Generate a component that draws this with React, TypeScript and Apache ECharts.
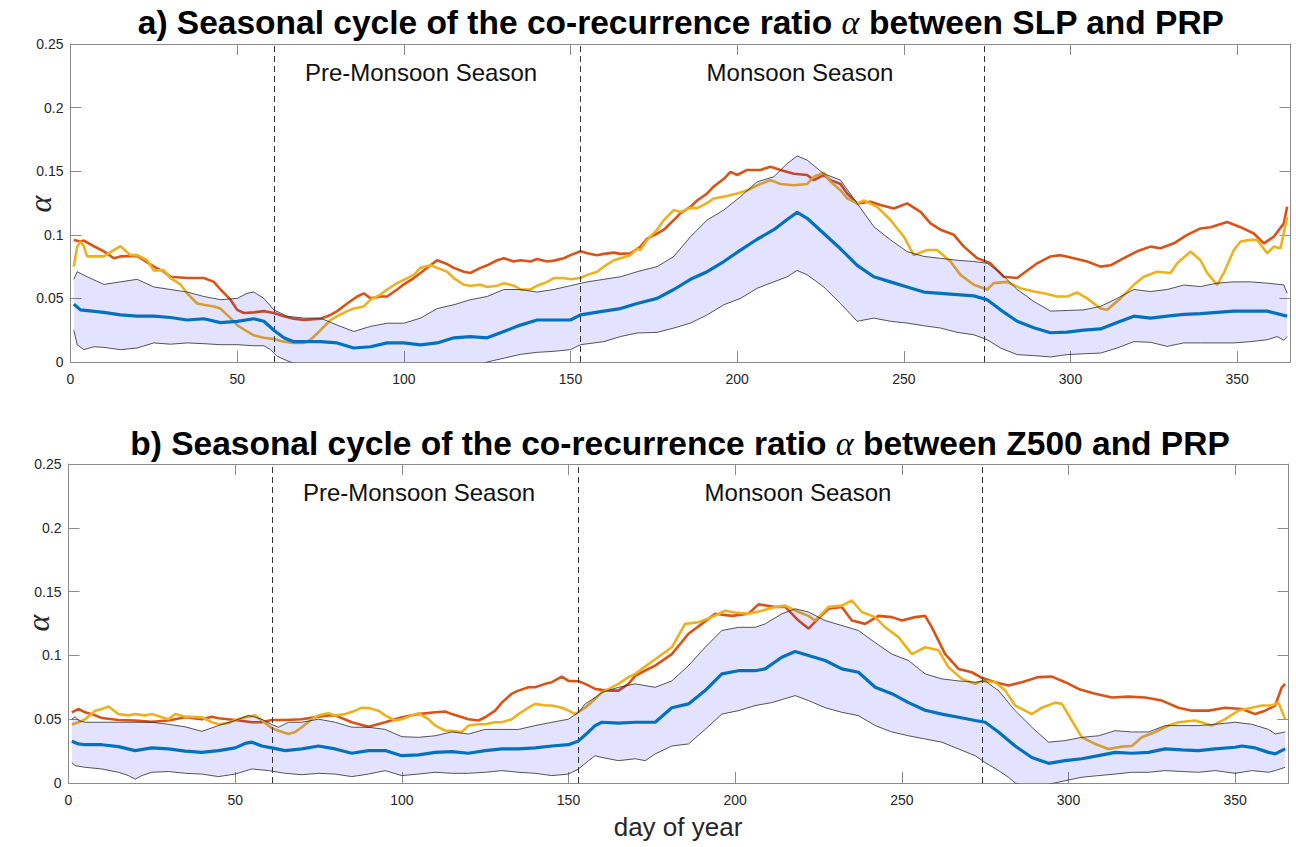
import React, { useEffect, useRef } from "react";
import * as echarts from "echarts";

type P = [number, number];

// ---------- Panel a) SLP / PRP ----------
const aMean: P[] = [[1,0.0455],[3,0.041],[10,0.039],[15,0.037],[20,0.036],[25,0.036],[30,0.035],[35,0.033],[40,0.034],[45,0.031],[50,0.032],[55,0.034],[58,0.032],[61,0.025],[64,0.019],[67,0.016],[70,0.016],[75,0.016],[80,0.015],[85,0.011],[90,0.012],[95,0.015],[100,0.015],[105,0.0135],[110,0.015],[115,0.019],[120,0.020],[125,0.019],[130,0.024],[135,0.029],[140,0.033],[145,0.033],[150,0.033],[153,0.037],[160,0.040],[165,0.042],[170,0.046],[176,0.050],[181,0.057],[186,0.065],[191,0.071],[196,0.079],[201,0.088],[206,0.0965],[211,0.104],[215,0.112],[218,0.1176],[221,0.113],[226,0.101],[231,0.089],[236,0.076],[241,0.067],[246,0.063],[251,0.059],[256,0.055],[261,0.054],[266,0.053],[271,0.052],[275,0.049],[279,0.041],[284,0.032],[289,0.027],[294,0.023],[299,0.0235],[304,0.025],[309,0.026],[314,0.031],[319,0.036],[324,0.0345],[329,0.036],[334,0.0375],[339,0.038],[344,0.039],[349,0.040],[354,0.040],[359,0.040],[362,0.038],[365,0.036]];
const aUpper: P[] = [[1,0.065],[2,0.071],[5,0.067],[10,0.061],[15,0.063],[20,0.065],[25,0.059],[30,0.057],[35,0.055],[40,0.0515],[45,0.049],[50,0.050],[53,0.054],[55,0.055],[58,0.050],[61,0.041],[65,0.036],[70,0.0345],[75,0.0345],[80,0.029],[85,0.024],[90,0.028],[95,0.0305],[100,0.0305],[105,0.0345],[110,0.042],[115,0.045],[120,0.049],[125,0.0515],[130,0.057],[135,0.057],[140,0.055],[145,0.057],[150,0.060],[155,0.063],[160,0.065],[165,0.067],[170,0.071],[176,0.075],[181,0.083],[186,0.0985],[191,0.1116],[196,0.1195],[201,0.130],[206,0.1417],[211,0.1456],[215,0.156],[218,0.162],[221,0.1587],[226,0.148],[231,0.143],[236,0.1247],[241,0.1064],[246,0.096],[251,0.0868],[256,0.083],[261,0.0815],[266,0.080],[271,0.079],[275,0.0776],[279,0.070],[284,0.057],[289,0.0476],[294,0.040],[299,0.0405],[304,0.041],[309,0.0437],[314,0.050],[319,0.057],[324,0.0554],[329,0.057],[334,0.0605],[339,0.0593],[344,0.062],[349,0.063],[354,0.063],[359,0.062],[364,0.0606],[365,0.054]];
const aLower: P[] = [[1,0.025],[2,0.0136],[4,0.0097],[7,0.012],[10,0.0115],[15,0.0097],[20,0.011],[25,0.015],[30,0.014],[35,0.015],[40,0.0144],[45,0.0136],[50,0.0136],[55,0.0128],[58,0.0128],[60,0.0097],[62,0.0045],[65,0.001],[68,-0.002],[75,-0.008],[90,-0.015],[100,-0.015],[110,-0.012],[120,-0.005],[125,0.0],[130,0.003],[135,0.006],[140,0.0076],[145,0.0084],[150,0.0097],[153,0.0136],[160,0.016],[165,0.020],[170,0.0228],[176,0.0233],[181,0.0267],[186,0.0306],[191,0.037],[196,0.045],[201,0.050],[206,0.058],[211,0.063],[215,0.067],[218,0.072],[221,0.0685],[226,0.059],[231,0.046],[236,0.032],[241,0.0345],[246,0.032],[251,0.0306],[256,0.0285],[261,0.0267],[266,0.0233],[271,0.0214],[275,0.0175],[279,0.011],[284,0.0058],[289,0.005],[294,0.004],[299,0.0058],[304,0.0065],[309,0.007],[314,0.011],[319,0.016],[324,0.0155],[329,0.0123],[334,0.015],[339,0.015],[344,0.015],[349,0.015],[354,0.016],[359,0.0175],[362,0.020],[364,0.017],[365,0.020]];
const aOrange: P[] = [[1,0.096],[3,0.0947],[4,0.0955],[7,0.091],[10,0.087],[13,0.0816],[15,0.083],[20,0.0834],[25,0.075],[28,0.071],[30,0.067],[35,0.066],[40,0.066],[43,0.063],[45,0.057],[48,0.049],[50,0.041],[52,0.0385],[55,0.039],[58,0.040],[61,0.0385],[64,0.036],[67,0.034],[70,0.033],[75,0.034],[78,0.037],[80,0.040],[83,0.046],[86,0.0515],[88,0.054],[90,0.050],[93,0.0515],[95,0.0515],[98,0.057],[100,0.061],[103,0.066],[105,0.070],[108,0.076],[110,0.080],[113,0.077],[115,0.074],[118,0.071],[120,0.070],[123,0.074],[125,0.076],[128,0.080],[130,0.0816],[133,0.079],[135,0.080],[138,0.079],[140,0.081],[143,0.079],[145,0.0797],[148,0.0816],[150,0.084],[153,0.087],[155,0.0855],[158,0.084],[160,0.085],[163,0.086],[165,0.085],[168,0.0855],[171,0.0907],[173,0.097],[176,0.101],[178,0.104],[181,0.1116],[183,0.117],[186,0.122],[188,0.127],[191,0.1325],[193,0.138],[196,0.144],[198,0.1495],[200,0.147],[203,0.151],[207,0.151],[210,0.1535],[213,0.151],[217,0.148],[221,0.147],[223,0.143],[226,0.147],[228,0.143],[231,0.140],[233,0.1325],[236,0.1247],[240,0.126],[243,0.1234],[247,0.1207],[251,0.1247],[255,0.118],[258,0.109],[261,0.104],[265,0.100],[268,0.0907],[272,0.0816],[276,0.0776],[280,0.067],[284,0.066],[286,0.070],[290,0.0776],[294,0.083],[297,0.084],[301,0.0816],[305,0.079],[309,0.075],[312,0.076],[316,0.0816],[320,0.087],[324,0.0907],[327,0.0894],[331,0.0933],[335,0.100],[339,0.105],[342,0.106],[347,0.110],[351,0.106],[355,0.101],[358,0.0933],[361,0.0985],[364,0.109],[365,0.122]];
const aYellow: P[] = [[1,0.075],[2,0.0907],[3,0.0947],[4,0.091],[5,0.083],[8,0.083],[10,0.083],[13,0.088],[15,0.091],[18,0.084],[20,0.084],[23,0.080],[25,0.072],[28,0.072],[30,0.066],[33,0.061],[35,0.054],[38,0.046],[40,0.045],[43,0.0437],[45,0.042],[48,0.0345],[50,0.029],[53,0.024],[55,0.021],[58,0.019],[61,0.018],[64,0.016],[67,0.015],[70,0.015],[72,0.0175],[75,0.025],[78,0.033],[80,0.036],[83,0.040],[85,0.042],[88,0.0437],[90,0.049],[93,0.053],[95,0.057],[98,0.062],[100,0.0646],[103,0.0685],[105,0.074],[108,0.076],[110,0.074],[113,0.071],[115,0.066],[118,0.0607],[120,0.060],[123,0.0607],[125,0.059],[128,0.060],[130,0.062],[133,0.060],[135,0.057],[138,0.057],[140,0.060],[143,0.063],[145,0.066],[148,0.066],[150,0.065],[153,0.066],[155,0.0685],[158,0.071],[160,0.075],[163,0.080],[165,0.0816],[168,0.084],[170,0.0894],[171,0.088],[173,0.096],[176,0.104],[178,0.1116],[181,0.1195],[183,0.118],[186,0.121],[188,0.121],[191,0.125],[193,0.1286],[196,0.130],[200,0.1325],[203,0.135],[207,0.140],[210,0.143],[213,0.140],[217,0.139],[221,0.140],[223,0.1456],[226,0.1488],[228,0.1417],[231,0.135],[233,0.1286],[236,0.1247],[238,0.127],[242,0.122],[246,0.1116],[250,0.0985],[253,0.084],[257,0.088],[260,0.088],[264,0.079],[267,0.0685],[271,0.0607],[275,0.057],[277,0.062],[281,0.063],[285,0.058],[289,0.0554],[292,0.054],[296,0.0515],[299,0.0515],[302,0.0546],[305,0.050],[309,0.042],[311,0.041],[315,0.050],[319,0.0607],[322,0.067],[326,0.071],[330,0.070],[332,0.0776],[336,0.0868],[339,0.080],[341,0.070],[344,0.0607],[346,0.070],[349,0.088],[351,0.0947],[354,0.096],[356,0.096],[359,0.0855],[361,0.0907],[363,0.0894],[365,0.114]];

// ---------- Panel b) Z500 / PRP ----------
const bMean: P[] = [[1,0.0327],[3,0.0306],[5,0.030],[10,0.030],[15,0.0285],[20,0.0254],[25,0.0275],[30,0.0267],[35,0.025],[40,0.024],[45,0.0254],[50,0.0275],[53,0.031],[55,0.032],[58,0.029],[61,0.0275],[65,0.0254],[70,0.0267],[75,0.029],[80,0.0267],[85,0.0233],[90,0.0254],[95,0.0254],[100,0.0214],[105,0.022],[110,0.024],[115,0.0246],[120,0.0233],[125,0.0254],[130,0.0267],[135,0.0267],[140,0.0275],[145,0.029],[150,0.030],[153,0.033],[156,0.040],[158,0.045],[160,0.0476],[165,0.047],[170,0.0476],[176,0.0476],[181,0.059],[186,0.062],[191,0.0724],[196,0.0855],[201,0.088],[206,0.088],[209,0.0894],[214,0.0986],[218,0.103],[222,0.0999],[227,0.096],[232,0.0894],[237,0.0868],[242,0.075],[247,0.070],[252,0.063],[257,0.057],[262,0.054],[267,0.0515],[272,0.049],[275,0.0476],[279,0.040],[284,0.029],[289,0.020],[294,0.0154],[299,0.0175],[304,0.019],[309,0.0214],[314,0.024],[319,0.0233],[324,0.024],[329,0.0267],[334,0.026],[339,0.0254],[344,0.0267],[350,0.028],[352,0.029],[356,0.0275],[360,0.024],[362,0.0228],[365,0.0267]];
const bUpper: P[] = [[1,0.050],[2,0.052],[3,0.049],[5,0.0476],[10,0.0476],[15,0.0476],[20,0.0476],[25,0.0476],[30,0.046],[35,0.044],[40,0.0405],[45,0.045],[50,0.049],[54,0.053],[58,0.050],[61,0.0458],[63,0.0437],[66,0.0476],[70,0.0476],[75,0.050],[80,0.0476],[85,0.0437],[90,0.0437],[95,0.042],[100,0.0363],[105,0.0358],[110,0.037],[115,0.040],[120,0.0384],[125,0.042],[130,0.042],[135,0.042],[140,0.045],[145,0.0476],[150,0.050],[153,0.0554],[155,0.062],[158,0.067],[160,0.071],[165,0.075],[170,0.0777],[176,0.075],[181,0.080],[186,0.092],[191,0.1064],[196,0.1195],[201,0.122],[206,0.122],[209,0.1247],[214,0.1326],[218,0.1365],[222,0.134],[227,0.1273],[232,0.1234],[237,0.1195],[242,0.110],[247,0.101],[252,0.096],[257,0.0855],[262,0.0816],[267,0.080],[272,0.079],[275,0.080],[279,0.0724],[284,0.0567],[289,0.0437],[294,0.032],[299,0.0332],[304,0.0358],[309,0.037],[314,0.041],[319,0.040],[324,0.040],[329,0.045],[334,0.045],[339,0.045],[344,0.046],[350,0.0476],[355,0.046],[360,0.042],[362,0.0384],[365,0.040]];
const bLower: P[] = [[1,0.016],[2,0.0136],[5,0.0123],[10,0.011],[15,0.0084],[18,0.0058],[20,0.003],[22,0.0058],[25,0.0084],[30,0.009],[35,0.0076],[40,0.007],[45,0.005],[50,0.007],[55,0.011],[60,0.0097],[65,0.0076],[70,0.0065],[75,0.0076],[80,0.007],[85,0.005],[90,0.007],[95,0.0097],[100,0.0058],[105,0.007],[110,0.0084],[115,0.0076],[120,0.0076],[125,0.0084],[130,0.0097],[135,0.0084],[140,0.0076],[145,0.0058],[150,0.007],[153,0.011],[156,0.0175],[158,0.0214],[160,0.020],[165,0.0175],[170,0.019],[173,0.0175],[176,0.0228],[181,0.029],[186,0.0306],[191,0.042],[196,0.054],[201,0.0567],[206,0.0607],[211,0.063],[218,0.0685],[222,0.0646],[227,0.059],[232,0.0554],[237,0.0528],[242,0.045],[247,0.040],[252,0.037],[257,0.0345],[262,0.032],[267,0.0267],[272,0.0214],[275,0.016],[279,0.0097],[282,0.0045],[284,0.0],[289,-0.004],[294,-0.001],[299,0.0018],[304,0.0045],[309,0.0058],[314,0.007],[319,0.0084],[324,0.0084],[329,0.0097],[334,0.009],[339,0.0084],[344,0.0097],[350,0.0076],[355,0.0097],[360,0.0084],[362,0.0097],[365,0.0123]];
const bOrange: P[] = [[1,0.0554],[3,0.058],[5,0.0554],[8,0.053],[10,0.051],[15,0.0494],[20,0.049],[25,0.048],[30,0.049],[35,0.0515],[40,0.050],[43,0.052],[45,0.0507],[50,0.0494],[55,0.0476],[58,0.0476],[61,0.0494],[65,0.0494],[70,0.050],[75,0.052],[78,0.053],[80,0.053],[85,0.0476],[90,0.044],[95,0.0476],[100,0.0515],[105,0.054],[110,0.0554],[113,0.056],[115,0.054],[120,0.050],[123,0.049],[125,0.0515],[128,0.0567],[130,0.063],[133,0.070],[135,0.0724],[138,0.075],[140,0.075],[143,0.0777],[145,0.079],[148,0.0834],[150,0.080],[153,0.0797],[155,0.0777],[158,0.0737],[160,0.073],[163,0.0724],[165,0.0724],[168,0.0777],[170,0.084],[172,0.0868],[176,0.092],[181,0.101],[186,0.117],[190,0.1247],[194,0.1326],[199,0.131],[204,0.1326],[207,0.140],[212,0.138],[215,0.138],[219,0.1273],[222,0.121],[225,0.129],[228,0.1365],[232,0.138],[235,0.1273],[239,0.1247],[243,0.131],[247,0.130],[250,0.1273],[254,0.130],[257,0.131],[259,0.122],[263,0.101],[267,0.0894],[271,0.0868],[274,0.0824],[278,0.079],[282,0.0764],[286,0.079],[291,0.083],[295,0.0834],[299,0.079],[303,0.0737],[308,0.070],[313,0.067],[318,0.0677],[323,0.067],[328,0.0646],[333,0.059],[337,0.0567],[342,0.0567],[347,0.059],[352,0.058],[356,0.054],[359,0.0567],[362,0.0607],[364,0.075],[365,0.0777]];
const bYellow: P[] = [[1,0.0458],[3,0.0476],[5,0.050],[8,0.0567],[10,0.058],[12,0.060],[15,0.054],[18,0.053],[20,0.054],[23,0.053],[25,0.054],[28,0.0515],[30,0.050],[32,0.054],[35,0.052],[40,0.0515],[43,0.0476],[45,0.046],[48,0.047],[50,0.0494],[53,0.0515],[56,0.053],[58,0.049],[61,0.043],[63,0.041],[66,0.0384],[68,0.040],[70,0.0437],[73,0.050],[75,0.053],[78,0.0546],[80,0.053],[83,0.054],[86,0.0567],[88,0.059],[90,0.0588],[93,0.0567],[95,0.053],[98,0.049],[100,0.050],[103,0.053],[105,0.0546],[108,0.050],[110,0.045],[113,0.041],[115,0.041],[118,0.040],[120,0.045],[123,0.046],[125,0.046],[128,0.0476],[130,0.0476],[133,0.050],[135,0.054],[138,0.059],[140,0.062],[143,0.0607],[145,0.0607],[148,0.059],[150,0.0567],[152,0.054],[155,0.059],[158,0.066],[160,0.071],[163,0.075],[165,0.0777],[168,0.083],[170,0.0855],[172,0.0894],[176,0.097],[181,0.1064],[185,0.1247],[189,0.126],[193,0.130],[197,0.135],[200,0.1336],[204,0.1326],[208,0.135],[212,0.138],[215,0.139],[219,0.134],[222,0.131],[224,0.1273],[228,0.138],[232,0.139],[235,0.143],[238,0.134],[242,0.130],[245,0.122],[249,0.1143],[253,0.101],[257,0.1064],[261,0.104],[264,0.0907],[268,0.0816],[272,0.0777],[274,0.080],[278,0.079],[281,0.0724],[284,0.0607],[289,0.054],[292,0.059],[296,0.063],[298,0.062],[301,0.049],[304,0.0358],[308,0.0306],[312,0.0267],[316,0.0285],[319,0.029],[322,0.0358],[326,0.040],[330,0.045],[333,0.0476],[338,0.049],[343,0.045],[347,0.050],[351,0.0567],[355,0.059],[358,0.0607],[361,0.0607],[363,0.063],[365,0.050]];

// season boundaries (day of year)
const seasonBounds = [61, 153, 274];
const seasonNames = ["Pre-Monsoon Season", "Monsoon Season"];
const titles = [
  ["a) Seasonal cycle of the co-recurrence ratio ", " between SLP and PRP"],
  ["b) Seasonal cycle of the co-recurrence ratio ", " between Z500 and PRP"],
];

const BLUE = "#0072BD";
const ORANGE = "#D95319";
const YELLOW = "#EDB120";
const BAND = "rgba(0,0,255,0.11)";
const AX = "#8a8a8a";
const TXT = "#262626";
const SANS = "'Liberation Sans', Arial, Helvetica, sans-serif";
const SERIF = "'Liberation Serif', 'DejaVu Serif', serif";

function xAx(gridIndex: number, position: string, showLabel: boolean) {
  return {
    type: "value", gridIndex, position, min: 0, max: 366, interval: 50,
    axisLine: { show: true, onZero: false, lineStyle: { color: AX, width: 1 } },
    axisTick: { show: true, inside: true, length: 11, lineStyle: { color: AX, width: 1 } },
    axisLabel: { show: showLabel, showMaxLabel: false, color: TXT, fontSize: 14, margin: 10, fontFamily: SANS },
    splitLine: { show: false },
  };
}
function yAx(gridIndex: number, position: string, showLabel: boolean) {
  return {
    type: "value", gridIndex, position, min: 0, max: 0.25, interval: 0.05,
    axisLine: { show: true, onZero: false, lineStyle: { color: AX, width: 1 } },
    axisTick: { show: true, inside: true, length: 11, lineStyle: { color: AX, width: 1 } },
    axisLabel: { show: showLabel, color: TXT, fontSize: 14, margin: 7, fontFamily: SANS },
    splitLine: { show: false },
  };
}

function panelSeries(ax: number, mean: P[], up: P[], lo: P[], orn: P[], yel: P[]) {
  const line = (data: P[], color: string, width: number, z: number, extra: any = {}) => ({
    type: "line", xAxisIndex: ax, yAxisIndex: ax, data, symbol: "none", showSymbol: false,
    lineStyle: { color, width }, z, silent: true, clip: true, ...extra,
  });
  return [
    line(orn, ORANGE, 2.6, 2),
    line(yel, YELLOW, 2.6, 2),
    {
      type: "custom", xAxisIndex: ax, yAxisIndex: ax, z: 3, clip: true, silent: true,
      data: [[0, 0]],
      renderItem: (_p: any, api: any) => {
        const pts = up.map((p) => api.coord(p)).concat(lo.slice().reverse().map((p) => api.coord(p)));
        return { type: "polygon", shape: { points: pts }, style: { fill: BAND, stroke: "none" } };
      },
    },
    line(up, "#2a2a2a", 0.8, 4, {
      markLine: {
        silent: true, symbol: ["none", "none"], label: { show: false },
        lineStyle: { type: [6, 4], color: "#333", width: 1 },
        data: seasonBounds.map((d) => ({ xAxis: d })),
      },
    }),
    line(lo, "#2a2a2a", 0.8, 4),
    line(mean, BLUE, 3.2, 5),
  ];
}

function titleText(x: number, y: number, parts: string[]) {
  return {
    type: "text", x, y, z: 100,
    style: {
      text: `{b|${parts[0]}}{al|α}{b|${parts[1]}}`,
      align: "center", verticalAlign: "middle",
      rich: {
        b: { fontFamily: SANS, fontWeight: "bold", fontSize: 33.5, fill: "#000" },
        al: { fontFamily: SERIF, fontStyle: "italic", fontSize: 34, fill: "#000" },
      },
    },
  };
}
function plainText(x: number, y: number, text: string, size: number, extra: any = {}) {
  return {
    type: "text", x, y, z: 100, ...extra,
    style: { text, fontFamily: SANS, fontSize: size, fill: "#111", align: "center", verticalAlign: "middle", ...(extra.style || {}) },
  };
}

export default function App() {
  const ref = useRef<HTMLDivElement>(null);
  useEffect(() => {
    if (!ref.current) return;
    const chart = echarts.init(ref.current, undefined, { renderer: "svg" });
    const option: any = {
      animation: false,
      backgroundColor: "#ffffff",
      grid: [
        { left: 70.5, top: 44, width: 1220, height: 318 },
        { left: 68.5, top: 464, width: 1220, height: 319 },
      ],
      xAxis: [xAx(0, "bottom", true), xAx(1, "bottom", true), xAx(0, "top", false), xAx(1, "top", false)],
      yAxis: [yAx(0, "left", true), yAx(1, "left", true), yAx(0, "right", false), yAx(1, "right", false)],
      series: [
        ...panelSeries(0, aMean, aUpper, aLower, aOrange, aYellow),
        ...panelSeries(1, bMean, bUpper, bLower, bOrange, bYellow),
      ],
      graphic: [
        titleText(681, 22, titles[0]),
        titleText(680, 443, titles[1]),
        plainText(421, 72, seasonNames[0], 24),
        plainText(800, 72, seasonNames[1], 24),
        plainText(419, 492, seasonNames[0], 24),
        plainText(798, 492, seasonNames[1], 24),
        {
          type: "text", x: 40, y: 204, rotation: Math.PI / 2, z: 100,
          style: { text: "α", fontFamily: SERIF, fontStyle: "italic", fontSize: 32, fill: TXT, align: "center", verticalAlign: "middle" },
        },
        {
          type: "text", x: 38, y: 623, rotation: Math.PI / 2, z: 100,
          style: { text: "α", fontFamily: SERIF, fontStyle: "italic", fontSize: 32, fill: TXT, align: "center", verticalAlign: "middle" },
        },
        plainText(678, 827, "day of year", 26, { style: { fill: TXT } }),
      ],
    };
    chart.setOption(option);
    return () => chart.dispose();
  }, []);
  return <div ref={ref} style={{ position: "absolute", left: 0, top: 0, width: 1296, height: 847 }} />;
}
